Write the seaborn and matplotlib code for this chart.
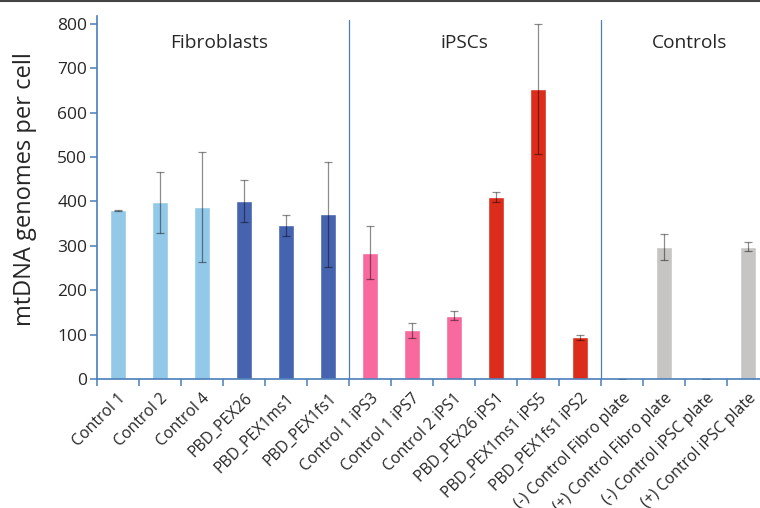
import numpy as np
import pandas as pd
import seaborn as sns
import matplotlib.pyplot as plt
from matplotlib.lines import Line2D

# muestras y valores
muestras = ["Control 1", "Control 2", "Control 4", "PBD_PEX26", "PBD_PEX1ms1", "PBD_PEX1fs1",
            "Control 1 iPS3", "Control 1 iPS7", "Control 2 iPS1", "PBD_PEX26 iPS1",
            "PBD_PEX1ms1 iPS5", "PBD_PEX1fs1 iPS2",
            "(-) Control Fibro plate", "(+) Control Fibro plate",
            "(-) Control iPSC plate", "(+) Control iPSC plate"]
copias = [380, 398, 387, 401, 346, 371,
          285, 110, 143, 410, 653, 94,
          0, 298, 0, 298]
errores = [1.5, 69, 124, 47, 24, 119,
           60, 17, 10, 11, 146, 6,
           0, 29, 0, 10]
grupos = ["Fibroblasts", "iPSCs", "Controls"]
colores = ["#93c9e8"] * 3 + ["#4663b0"] * 3 + ["#f8699d"] * 3 + ["#dc2c1b"] * 3 + ["#c6c5c4"] * 4

df = pd.DataFrame({"Muestra": muestras, "mtDNA": copias})

sns.set_style("white")
plt.rcParams['font.family'] = ['Open Sans', 'DejaVu Sans']

fig = plt.figure(figsize=(7.6, 5.08), dpi=100)
ax = fig.add_axes([97 / 760, 129 / 508, 672 / 760, 363 / 508])

sns.barplot(data=df, x="Muestra", y="mtDNA", hue="Muestra", palette=colores,
            legend=False, width=0.4, saturation=1, ax=ax)
ax.errorbar(np.arange(len(muestras)), copias, yerr=errores, fmt="none",
            ecolor="black", alpha=0.45, elinewidth=0.9, capsize=3, capthick=0.9)

ax.set_xlim(-0.5, len(muestras) - 0.5)
ax.set_ylim(0, 818)
ax.set_yticks(range(0, 801, 100))
ax.tick_params(axis="y", labelsize=12.5, length=5, width=1.1, color="#4a7ebb", pad=2,
               left=True)
ax.set_xticks(range(len(muestras)))
ax.set_xticklabels(muestras, rotation=45, ha="right", rotation_mode="anchor", fontsize=11.3)
ax.tick_params(axis="x", length=0, pad=8)
ax.set_xticks(np.arange(-0.5, len(muestras), 1), minor=True)
ax.tick_params(axis="x", which="minor", length=5, width=1.1, color="#4a7ebb", bottom=True)

for lado in ["top", "right"]:
    ax.spines[lado].set_visible(False)
for lado in ["left", "bottom"]:
    ax.spines[lado].set_color("#4a7ebb")
    ax.spines[lado].set_linewidth(1.2)

ax.set_xlabel("")
ax.set_ylabel("mtDNA genomes per cell", fontsize=17)
ax.yaxis.set_label_coords(-0.09, 0.524)

# separadores de grupos
for xs in [5.5, 11.5]:
    ax.plot([xs, xs], [0, 808], color="#4a7ebb", lw=0.9, zorder=1)

for g, xg in zip(grupos, [2.4, 8.25, 13.6]):
    ax.text(xg, 757, g, ha="center", va="center", fontsize=13.8)

fig.add_artist(Line2D([0, 1], [0.999, 0.999], color="#444444", lw=1.5,
                      transform=fig.transFigure))

plt.savefig("out.png", dpi=100)
plt.close()
